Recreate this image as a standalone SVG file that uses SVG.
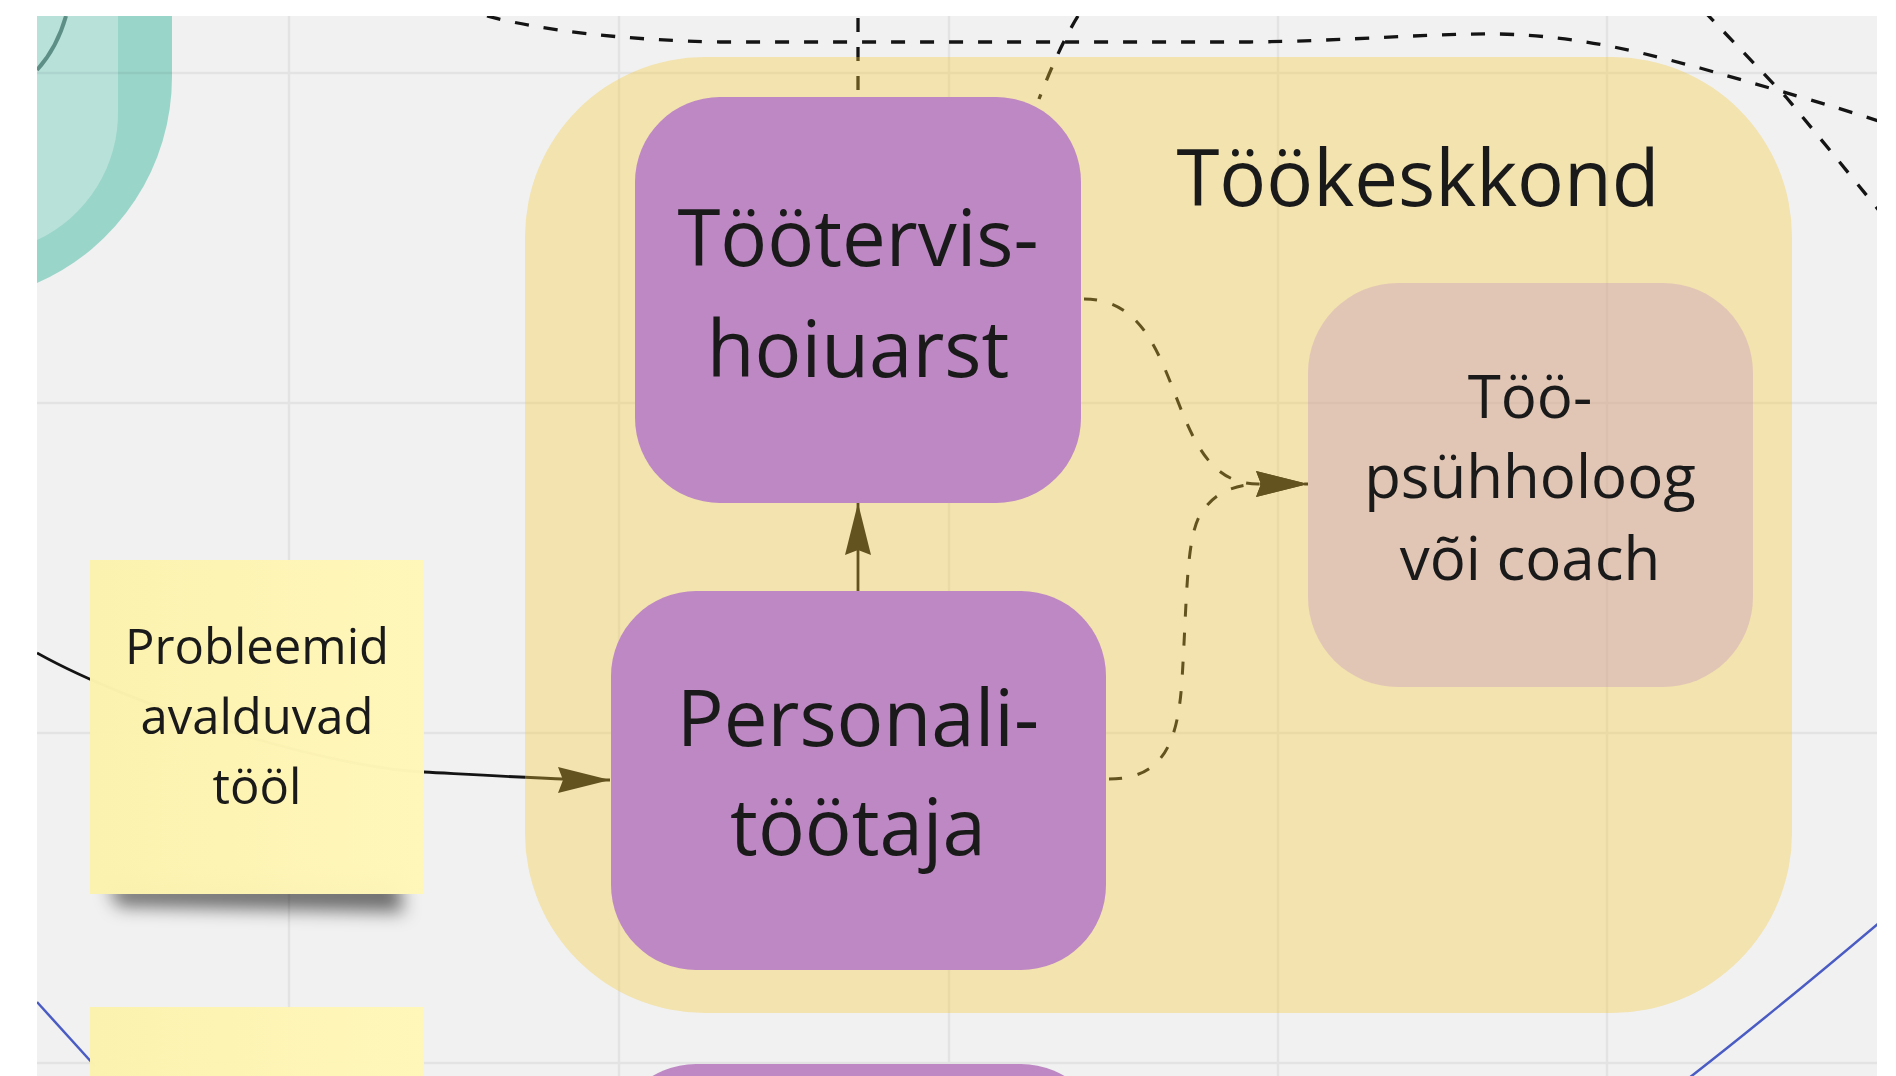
<svg xmlns="http://www.w3.org/2000/svg" width="1896" height="1076" viewBox="0 0 1896 1076">
<defs>
<style>
.grid{stroke:#000;stroke-opacity:0.055;stroke-width:2.5;fill:none}
.conn{fill:none;stroke:#141414;stroke-width:2.8}
.dash{stroke-dasharray:14 15;stroke-width:3.3}
.dash2{stroke-dasharray:13 16;stroke-width:3}
.blue{fill:none;stroke:#4a5cc4;stroke-width:2.5}
.role{fill:#bd88c3}
.txt{font-family:"Open Sans","Noto Sans","DejaVu Sans",sans-serif;fill:#1a1a1a;text-anchor:middle}
.big{font-size:78px}
.mid{font-size:60px}
.small{font-size:49px}
.sticky{fill:url(#stickyGrad);fill-opacity:0.985}
</style>
<marker id="arr" markerUnits="userSpaceOnUse" viewBox="0 0 52 26" markerWidth="52" markerHeight="26" refX="52" refY="13" orient="auto"><path d="M0 0 L52 13 L0 26 L5 13 Z" fill="#141414"/></marker>
<clipPath id="clip"><rect x="37" y="16" width="1840" height="1060"/></clipPath>
<filter id="shadow" x="-20%" y="-200%" width="140%" height="500%"><feGaussianBlur stdDeviation="9"/></filter>
<linearGradient id="stickyGrad" x1="0" x2="1" y1="0" y2="0"><stop offset="0" stop-color="#fcf2ae"/><stop offset="1" stop-color="#fff7b9"/></linearGradient>
</defs>
<rect width="1896" height="1076" fill="#ffffff"/>
<g clip-path="url(#clip)">
<rect x="37" y="16" width="1840" height="1060" fill="#f1f1f1"/>
<g id="teal-shapes">
<path d="M37 16 H172 V77 A225 225 0 0 1 37 283 Z" fill="#9ad5ca"/>
<path d="M37 16 H118 V110 A140 140 0 0 1 37 240 Z" fill="#b8e1da"/>
<path d="M66 16 Q57 48 37 70" fill="none" stroke="#5e8f87" stroke-width="4"/>
</g>
<g id="grid">
<path class="grid" d="M289 16 V1076 M619 16 V1076 M949 16 V1076 M1278 16 V1076 M1607 16 V1076 M37 73 H1877 M37 403 H1877 M37 733 H1877 M37 1063 H1877"/>
</g>
<g id="connectors">
<path class="conn dash" d="M487 16 C540 30 620 40 720 42 L1250 42 C1350 41 1430 33 1500 34 C1580 36 1640 52 1700 68 C1770 88 1830 105 1885 123"/>
<path class="conn dash" d="M858 18 V97"/>
<path class="conn dash" d="M1078 16 Q1060 45 1039 99"/>
<path class="conn dash" d="M1704 11 L1786 97 Q1830 150 1885 218"/>
<path class="conn dash2" d="M1084 299 C1190 299 1160 484 1258 484 L1308 484" marker-end="url(#arr)"/>
<path class="conn dash2" d="M1109 779 C1165 779 1178 740 1182 680 C1187 600 1186 540 1200 515 C1212 495 1230 485 1258 484 L1308 484" marker-end="url(#arr)"/>
<path class="conn" d="M858 591 V503" marker-end="url(#arr)"/>
<path class="conn" d="M37 653 C137 709 330 768 424 772 C480 775 560 780 610 780" marker-end="url(#arr)"/>
<path class="blue" d="M37 1002 L95 1066"/>
<path class="blue" d="M1880 922 Q1770 1015 1689 1078"/>
</g>
<g id="node-tookeskkond">
<rect x="525" y="57" width="1267" height="956" rx="180" fill="#f6c935" fill-opacity="0.35"/>
<text class="txt big" x="1418" y="206">Töökeskkond</text>
</g>
<g id="node-toopsuhholoog">
<rect x="1308" y="283" width="445" height="404" rx="90" fill="#bd88c3" fill-opacity="0.32"/>
<text class="txt mid" x="1530" y="418">Töö-</text>
<text class="txt mid" x="1530" y="498">psühholoog</text>
<text class="txt mid" x="1530" y="580">või coach</text>
</g>
<g id="node-tootervishoiuarst">
<rect class="role" x="635" y="97" width="446" height="406" rx="85"/>
<text class="txt big" x="858" y="266">Töötervis-</text>
<text class="txt big" x="858" y="377">hoiuarst</text>
</g>
<g id="node-personalitootaja">
<rect class="role" x="611" y="591" width="495" height="379" rx="85"/>
<text class="txt big" x="858" y="746">Personali-</text>
<text class="txt big" x="858" y="855">töötaja</text>
</g>
<g id="node-purple-bottom">
<rect class="role" x="611" y="1064" width="495" height="300" rx="85"/>
</g>
<g id="node-probleemid">
<path d="M108 884 L398 880 L404 912 L118 906 Z" fill="#000" fill-opacity="0.55" filter="url(#shadow)"/>
<rect class="sticky" x="90" y="560" width="334" height="334"/>
<text class="txt small" x="257" y="664">Probleemid</text>
<text class="txt small" x="257" y="734">avalduvad</text>
<text class="txt small" x="257" y="804">tööl</text>
</g>
<g id="node-sticky-bottom">
<rect class="sticky" x="90" y="1007" width="334" height="334"/>
</g>
</g>
</svg>
